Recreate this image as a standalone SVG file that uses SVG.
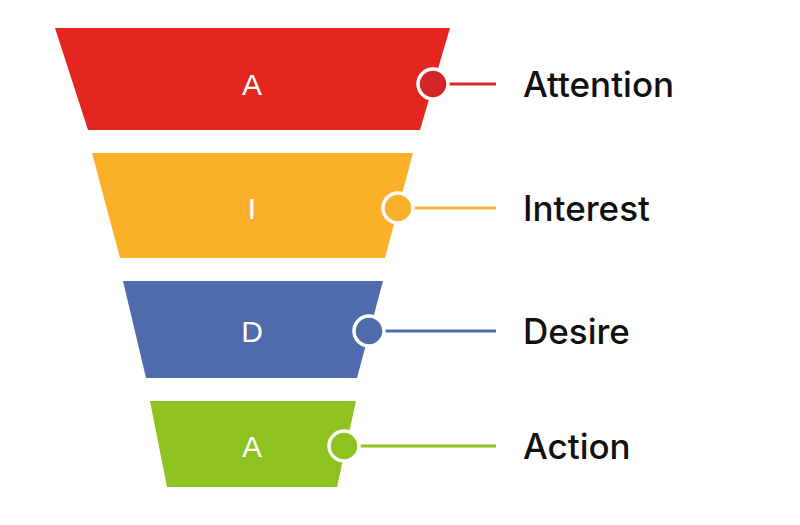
<svg xmlns="http://www.w3.org/2000/svg" width="800" height="525" viewBox="0 0 800 525">
<style>
.l{font-family:"Liberation Sans",Arial,sans-serif;font-size:30px;fill:#fff;text-anchor:middle}
.t{font-family:"Inter","Liberation Sans",sans-serif;font-size:35px;fill:#111;font-weight:500}
.c{stroke:#fff;stroke-width:3.5}
</style>
<rect width="800" height="525" fill="#fff"/>
<g id="connectors">
<line x1="433" y1="84" x2="496" y2="84" stroke="#d12a2a" stroke-width="3"/>
<line x1="398" y1="208" x2="496" y2="208" stroke="#f6b23a" stroke-width="3"/>
<line x1="369" y1="331" x2="496" y2="331" stroke="#4f6bab" stroke-width="3"/>
<line x1="344" y1="446" x2="496" y2="446" stroke="#8dc21f" stroke-width="3"/>
</g>
<g id="attention">
<polygon points="55,28 450,28 420,130 88,130" fill="#e3261f"/>
<text class="l" x="252" y="95">A</text>
<circle class="c" cx="433" cy="84" r="15" fill="#d3242a"/>
<text class="t" x="523" y="97">Attention</text>
</g>
<g id="interest">
<polygon points="92,153 413,153 385,258 120,258" fill="#fbb02a"/>
<text class="l" x="252" y="219">I</text>
<circle class="c" cx="398" cy="208" r="15" fill="#fbb02a"/>
<text class="t" x="523" y="221">Interest</text>
</g>
<g id="desire">
<polygon points="123,281 383,281 357,378 146,378" fill="#4f6bab"/>
<text class="l" x="252" y="342">D</text>
<circle class="c" cx="369" cy="331" r="15" fill="#4f6bab"/>
<text class="t" x="523" y="344">Desire</text>
</g>
<g id="action">
<polygon points="150,401 356,401 337,487 167,487" fill="#8dc21f"/>
<text class="l" x="252" y="457">A</text>
<circle class="c" cx="344" cy="446" r="15" fill="#8dc21f"/>
<text class="t" x="523" y="459">Action</text>
</g>
</svg>
